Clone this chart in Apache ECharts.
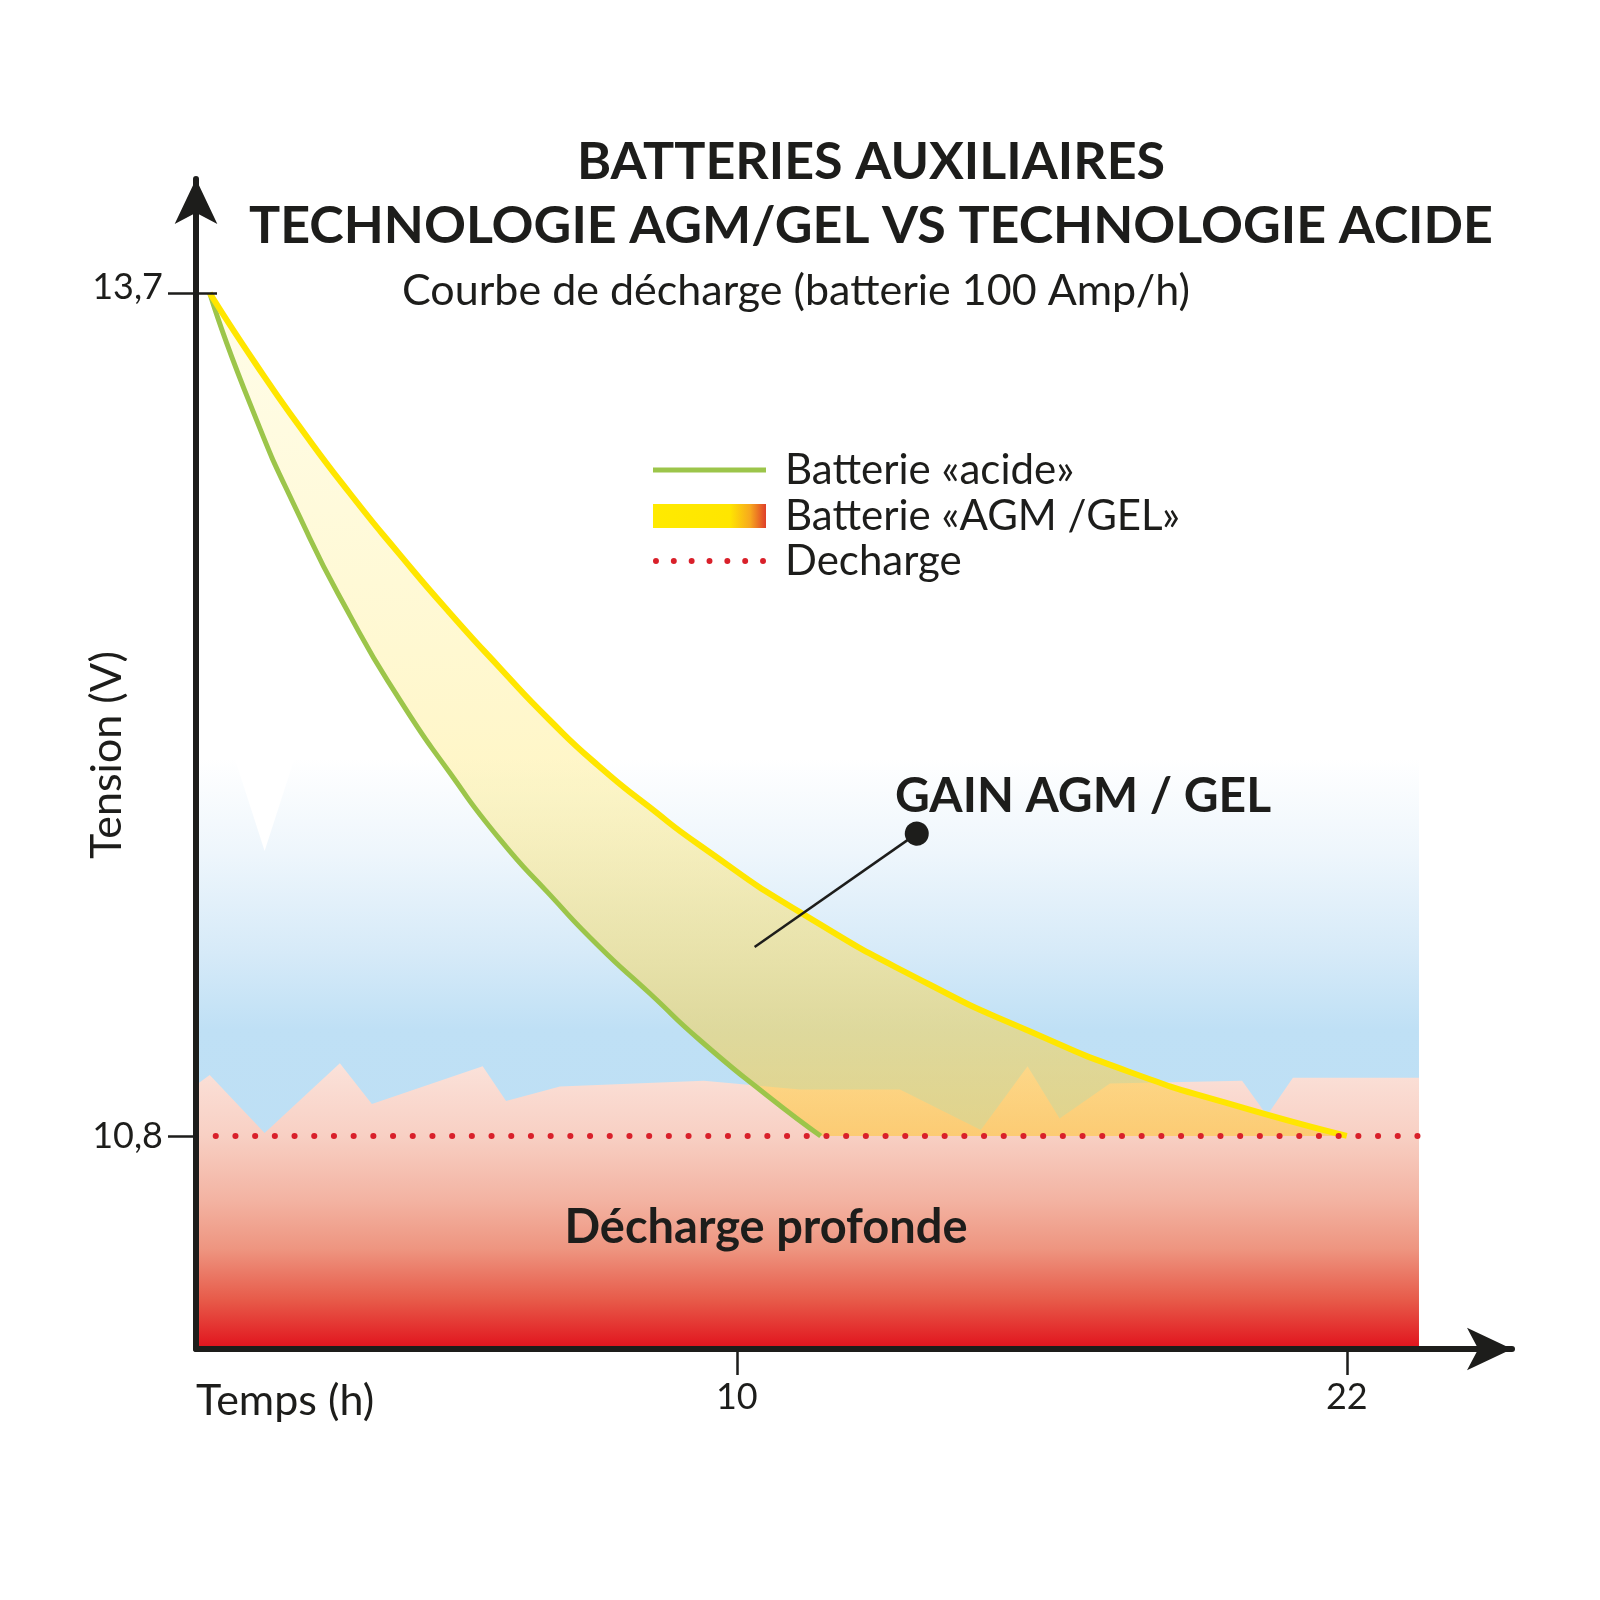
<!DOCTYPE html>
<html>
<head>
<meta charset="utf-8">
<title>Batteries auxiliaires</title>
<script src="https://cdn.jsdelivr.net/npm/echarts@6/dist/echarts.min.js"></script>
<style>
    html, body { margin: 0; padding: 0; background: #ffffff; }
    #chart { width: 1600px; height: 1600px; }
</style>
</head>
<body>
<div id="chart"></div>
<script>
// courbes (heures, volts)
var acidHours = [-0.37, 0.42, 1.40, 2.39, 3.37, 4.35, 5.34, 6.32, 7.30, 8.29, 9.27, 10.59, 11.65];
var acidVolts = [13.70, 13.32, 12.93, 12.59, 12.30, 12.05, 11.82, 11.63, 11.45, 11.29, 11.13, 10.94, 10.80];

var agmHours = [-0.37, 0.52, 1.40, 2.39, 3.37, 4.35, 5.34, 6.32, 7.30, 8.29, 9.27, 11.24, 13.80, 15.76, 17.73, 19.70, 22.00];
var agmVolts = [13.70, 13.46, 13.24, 13.01, 12.80, 12.60, 12.41, 12.23, 12.07, 11.93, 11.80, 11.57, 11.32, 11.16, 11.02, 10.91, 10.80];

// seuil de décharge
var dischargeHours = [-0.64, 23.42];
var dischargeVolts = [10.8, 10.8];

// fond : bande rose (bord dentelé) et zone bleue
var pinkHours = [-0.64, -0.37, 0.71, 2.19, 2.82, 5.00, 5.46, 6.52, 9.35, 11.24, 13.21, 14.80, 15.72, 16.35, 17.34, 19.94, 20.43, 20.94, 23.42];
var pinkVolts = [10.975, 11.01, 10.81, 11.05, 10.91, 11.04, 10.92, 10.97, 10.99, 10.96, 10.96, 10.82, 11.04, 10.86, 10.98, 10.99, 10.87, 11.00, 11.00];
var blueHours = [-0.64, 0.12, 0.71, 1.30, 23.42];
var blueVolts = [12.10, 12.10, 11.78, 12.10, 12.10];

// repère "GAIN AGM / GEL"
var gainPointer = [[10.35, 11.45], [13.54, 11.84]];

// graduations
var hourTicks = [10, 22];
var voltTicks = [10.8, 13.7];
var voltTopTick = [13.7];

var xMin = -0.64, xMax = 25.25;
var yMin = 10.067, yMax = 14.092;
var curveSmooth = 0.6;

function pairs(xs, ys) {
    return xs.map(function (x, i) { return [x, ys[i]]; });
}

// même lissage que les séries 'line' pour le remplissage entre les courbes
function bezierTo(pts, s) {
    var d = '';
    var cp0 = pts[0];
    for (var i = 1; i < pts.length; i++) {
        var p = pts[i], prev = pts[i - 1], next = pts[i + 1];
        var cp1 = p, nextCp0 = p;
        if (next) {
            var vx = next[0] - prev[0], vy = next[1] - prev[1];
            var l0 = Math.hypot(p[0] - prev[0], p[1] - prev[1]);
            var l1 = Math.hypot(next[0] - p[0], next[1] - p[1]);
            var r = l1 / (l0 + l1);
            cp1 = [p[0] - vx * s * (1 - r), p[1] - vy * s * (1 - r)];
            nextCp0 = [p[0] + vx * s * r, p[1] + vy * s * r];
        }
        d += ' C' + cp0[0] + ',' + cp0[1] + ' ' + cp1[0] + ',' + cp1[1] + ' ' + p[0] + ',' + p[1];
        cp0 = nextCp0;
    }
    return d;
}

var ink = '#1d1d1b';
var font = 'Lato';

var chartDom = document.getElementById('chart');
var myChart = echarts.init(chartDom, null, { renderer: 'canvas' });
var option;

option = {
    animation: false,
    backgroundColor: '#ffffff',
    textStyle: { fontFamily: font, color: ink },
    title: [
        {
            text: 'BATTERIES AUXILIAIRES',
            left: 871, top: 162, padding: 0,
            textAlign: 'center', textVerticalAlign: 'middle',
            textStyle: { fontFamily: font, fontWeight: 'bold', fontSize: 52, color: ink }
        },
        {
            text: 'TECHNOLOGIE AGM/GEL VS TECHNOLOGIE ACIDE',
            left: 871, top: 226, padding: 0,
            textAlign: 'center', textVerticalAlign: 'middle',
            textStyle: { fontFamily: font, fontWeight: 'bold', fontSize: 52, color: ink }
        },
        {
            text: 'Courbe de décharge (batterie 100 Amp/h)',
            left: 796, top: 291, padding: 0,
            textAlign: 'center', textVerticalAlign: 'middle',
            textStyle: { fontFamily: font, fontWeight: 'normal', fontSize: 43, color: ink }
        },
        {
            text: 'GAIN AGM / GEL',
            left: 1083, top: 797, padding: 0,
            textAlign: 'center', textVerticalAlign: 'middle',
            textStyle: { fontFamily: font, fontWeight: 'bold', fontSize: 48, color: ink }
        },
        {
            text: 'Décharge profonde',
            left: 766, top: 1228, padding: 0,
            textAlign: 'center', textVerticalAlign: 'middle',
            textStyle: { fontFamily: font, fontWeight: 'bold', fontSize: 47, color: ink }
        },
        {
            text: 'Temps (h)',
            left: 196, top: 1401, padding: 0,
            textAlign: 'left', textVerticalAlign: 'middle',
            textStyle: { fontFamily: font, fontWeight: 'normal', fontSize: 43, color: ink }
        }
    ],
    graphic: [
        {
            type: 'text',
            x: 107, y: 755,
            rotation: Math.PI / 2,
            style: {
                text: 'Tension (V)',
                fontFamily: font, fontSize: 43, fill: ink,
                align: 'center', verticalAlign: 'middle'
            }
        }
    ],
    legend: [
        {
            left: 653, top: 449, padding: 0,
            itemWidth: 113, itemHeight: 5,
            selectedMode: false,
            textStyle: { fontFamily: font, fontSize: 42, color: ink, padding: [0, 0, 0, 14] },
            data: [{ name: 'Batterie «acide»', icon: 'rect', itemStyle: { color: '#9cc54a' } }]
        },
        {
            left: 653, top: 495, padding: 0,
            itemWidth: 113, itemHeight: 24,
            selectedMode: false,
            textStyle: { fontFamily: font, fontSize: 42, color: ink, padding: [0, 0, 0, 14] },
            data: [{
                name: 'Batterie «AGM /GEL»', icon: 'rect',
                itemStyle: {
                    color: {
                        type: 'linear', x: 0, y: 0, x2: 1, y2: 0,
                        colorStops: [
                            { offset: 0, color: '#ffea00' },
                            { offset: 0.68, color: '#ffe600' },
                            { offset: 0.86, color: '#f7a81e' },
                            { offset: 1, color: '#df3f2a' }
                        ]
                    }
                }
            }]
        },
        {
            left: 653, top: 540, padding: 0,
            itemWidth: 113, itemHeight: 6,
            selectedMode: false,
            textStyle: { fontFamily: font, fontSize: 42, color: ink, padding: [0, 0, 0, 14] },
            data: [{
                name: 'Decharge',
                icon: 'path://M0,3a3,3 0 1,0 6,0a3,3 0 1,0 -6,0M18,3a3,3 0 1,0 6,0a3,3 0 1,0 -6,0M36,3a3,3 0 1,0 6,0a3,3 0 1,0 -6,0M54,3a3,3 0 1,0 6,0a3,3 0 1,0 -6,0M72,3a3,3 0 1,0 6,0a3,3 0 1,0 -6,0M90,3a3,3 0 1,0 6,0a3,3 0 1,0 -6,0M108,3a3,3 0 1,0 6,0a3,3 0 1,0 -6,0Z',
                itemStyle: { color: '#d9202a' }
            }]
        }
    ],
    grid: {
        left: 196,
        right: 88,
        top: 179,
        bottom: 251,
        containLabel: false
    },
    xAxis: {
        type: 'value',
        min: xMin,
        max: xMax,
        z: 10,
        axisLine: {
            show: true,
            onZero: false,
            symbol: ['none', 'arrow'],
            symbolSize: [32, 45],
            lineStyle: { color: ink, width: 6 }
        },
        axisTick: {
            show: true,
            customValues: hourTicks,
            length: 26,
            lineStyle: { color: ink, width: 2.5 }
        },
        axisLabel: {
            show: true,
            customValues: hourTicks,
            margin: 30,
            fontFamily: font,
            fontSize: 36,
            color: ink
        },
        splitLine: { show: false }
    },
    yAxis: [
        {
            type: 'value',
            min: yMin,
            max: yMax,
            z: 10,
            axisLine: {
                show: true,
                onZero: false,
                symbol: ['none', 'arrow'],
                symbolSize: [32, 45],
                lineStyle: { color: ink, width: 6 }
            },
            axisTick: {
                show: true,
                customValues: voltTicks,
                length: 28,
                lineStyle: { color: ink, width: 2.5 }
            },
            axisLabel: {
                show: true,
                customValues: voltTicks,
                margin: 33,
                fontFamily: font,
                fontSize: 36,
                color: ink,
                formatter: function (v) {
                    var s = String(v).replace('.', ',');
                    return v === 13.7 ? '{hi|' + s + '}' : s;
                },
                rich: {
                    hi: { fontFamily: font, fontSize: 36, color: ink, padding: [0, 0, 12, 0] }
                }
            },
            splitLine: { show: false }
        },
        {
            type: 'value',
            min: yMin,
            max: yMax,
            position: 'left',
            z: 10,
            axisLine: { show: false, onZero: false },
            axisTick: {
                show: true,
                inside: true,
                customValues: voltTopTick,
                length: 21,
                lineStyle: { color: ink, width: 2.5 }
            },
            axisLabel: { show: false },
            splitLine: { show: false }
        }
    ],
    series: [
        {
            name: 'zone bleue',
            type: 'line',
            silent: true,
            z: 1,
            showSymbol: false,
            lineStyle: { width: 0 },
            areaStyle: {
                origin: 'start',
                opacity: 1,
                color: {
                    type: 'linear', x: 0, y: 0, x2: 0, y2: 1,
                    colorStops: [
                        { offset: 0, color: '#ffffff' },
                        { offset: 0.16, color: '#eef6fc' },
                        { offset: 0.33, color: '#d6eaf8' },
                        { offset: 0.46, color: '#bfe0f5' },
                        { offset: 1, color: '#bbdef4' }
                    ]
                }
            },
            data: pairs(blueHours, blueVolts)
        },
        {
            name: 'zone rose',
            type: 'line',
            silent: true,
            z: 1,
            showSymbol: false,
            lineStyle: { width: 0 },
            areaStyle: {
                origin: 'start',
                opacity: 1,
                color: {
                    type: 'linear', x: 0, y: 0, x2: 0, y2: 1,
                    colorStops: [
                        { offset: 0, color: '#fbe2da' },
                        { offset: 0.25, color: '#f8d0c4' },
                        { offset: 0.48, color: '#f3b3a2' },
                        { offset: 0.65, color: '#ee9580' },
                        { offset: 0.83, color: '#e75a49' },
                        { offset: 1, color: '#e1121c' }
                    ]
                }
            },
            data: pairs(pinkHours, pinkVolts)
        },
        {
            name: 'gain',
            type: 'custom',
            silent: true,
            z: 2,
            data: [[agmHours[0], agmVolts[0]]],
            renderItem: function (params, api) {
                var top = agmHours.map(function (h, i) { return api.coord([h, agmVolts[i]]); });
                var bottom = acidHours.map(function (h, i) { return api.coord([h, acidVolts[i]]); }).reverse();
                var d = 'M' + top[0][0] + ',' + top[0][1] + bezierTo(top, curveSmooth) +
                    ' L' + bottom[0][0] + ',' + bottom[0][1] + bezierTo(bottom, curveSmooth) + ' Z';
                return {
                    type: 'path',
                    shape: { pathData: d },
                    style: {
                        fill: {
                            type: 'linear', x: 0, y: 0, x2: 0, y2: 1,
                            colorStops: [
                                { offset: 0, color: 'rgba(255, 242, 140, 0.2)' },
                                { offset: 0.6, color: 'rgba(255, 228, 90, 0.35)' },
                                { offset: 1, color: 'rgba(255, 200, 50, 0.55)' }
                            ]
                        }
                    }
                };
            }
        },
        {
            name: 'Batterie «acide»',
            type: 'line',
            z: 3,
            smooth: curveSmooth,
            showSymbol: false,
            color: '#9cc54a',
            lineStyle: { color: '#9cc54a', width: 5 },
            data: pairs(acidHours, acidVolts)
        },
        {
            name: 'Batterie «AGM /GEL»',
            type: 'line',
            z: 4,
            smooth: curveSmooth,
            showSymbol: false,
            color: '#ffe600',
            lineStyle: { color: '#ffe600', width: 6 },
            data: pairs(agmHours, agmVolts)
        },
        {
            name: 'Decharge',
            type: 'line',
            z: 5,
            showSymbol: false,
            color: '#d9202a',
            lineStyle: { color: '#d9202a', width: 6, type: [0.1, 19.6], cap: 'round' },
            data: pairs(dischargeHours, dischargeVolts),
            markLine: {
                silent: true,
                symbol: ['none', 'circle'],
                symbolSize: 24,
                label: { show: false },
                lineStyle: { color: ink, width: 2.5, type: 'solid' },
                itemStyle: { color: ink },
                data: [[{ coord: gainPointer[0] }, { coord: gainPointer[1] }]]
            }
        }
    ]
};

option && myChart.setOption(option);
</script>
</body>
</html>
